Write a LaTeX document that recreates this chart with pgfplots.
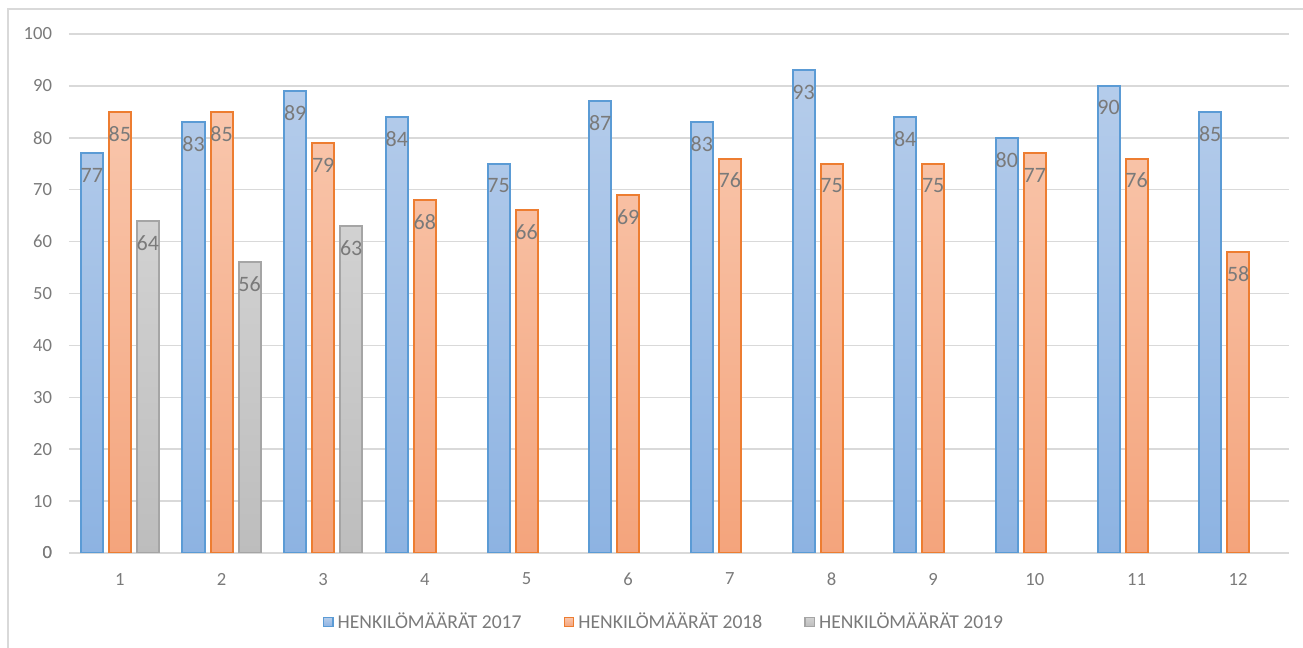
\documentclass[border=0pt]{standalone}
\usepackage{fontspec}
\setmainfont{Carlito}
\usepackage{pgfplots}
\pgfplotsset{compat=1.18}

\definecolor{bluedge}{HTML}{5B9BD5}
\definecolor{bluetop}{HTML}{B6CDEB}
\definecolor{bluebot}{HTML}{8DB3E2}
\definecolor{orgedge}{HTML}{ED7D31}
\definecolor{orgtop}{HTML}{F9C6AC}
\definecolor{orgbot}{HTML}{F4A47C}
\definecolor{gryedge}{HTML}{A5A5A5}
\definecolor{grytop}{HTML}{D2D2D2}
\definecolor{grybot}{HTML}{BDBDBD}
\definecolor{gridc}{HTML}{D9D9D9}
\definecolor{txt}{HTML}{7A7A7A}

\begin{document}
\begin{tikzpicture}
\useasboundingbox (-34.5pt,-47.5pt) rectangle (617pt,276.5pt);
\begin{axis}[
  at={(0,0)}, anchor=south west,
  scale only axis,
  width=610pt, height=259.5pt,
  ybar=3pt,
  bar width=11pt,
  ymin=0, ymax=100,
  xmin=0.5, xmax=12.5,
  xtick={1,...,12},
  ytick={0,10,...,100},
  axis line style={draw=none},
  major tick length=0pt,
  ymajorgrids,
  grid style={draw=gridc, line width=0.75pt},
  extra y ticks={0},
  extra y tick style={grid style={draw=gridc, line width=0.9pt}},
  tick label style={font=\fontsize{9.3}{10}\selectfont, text=txt},
  /pgf/number format/assume math mode=true,
  yticklabel style={xshift=-5pt},
  xticklabel style={yshift=-6.5pt},
  nodes near coords,
  every node near coord/.append style={anchor=center, yshift=-11pt,
    font=\fontsize{11}{12}\selectfont, text=txt},
  legend columns=3,
  legend style={draw=none, fill=none, at={(0.4885,-0.133)}, anchor=center,
    font=\fontsize{9.8}{11}\selectfont, text=txt,
    /tikz/every even column/.append style={column sep=19pt}},
]
\addplot[draw=bluedge, line width=1pt, top color=bluetop, bottom color=bluebot,
  legend image code/.code={\draw[draw=bluedge, line width=0.8pt, top color=bluetop, bottom color=bluebot] (0pt,-2.3pt) rectangle (4.6pt,2.3pt);}]
  coordinates {(1,77) (2,83) (3,89) (4,84) (5,75) (6,87) (7,83) (8,93) (9,84) (10,80) (11,90) (12,85)};
\addplot[draw=orgedge, line width=1pt, top color=orgtop, bottom color=orgbot,
  legend image code/.code={\draw[draw=orgedge, line width=0.8pt, top color=orgtop, bottom color=orgbot] (0pt,-2.3pt) rectangle (4.6pt,2.3pt);}]
  coordinates {(1,85) (2,85) (3,79) (4,68) (5,66) (6,69) (7,76) (8,75) (9,75) (10,77) (11,76) (12,58)};
\addplot[draw=gryedge, line width=1pt, top color=grytop, bottom color=grybot,
  legend image code/.code={\draw[draw=gryedge, line width=0.8pt, top color=grytop, bottom color=grybot] (0pt,-2.3pt) rectangle (4.6pt,2.3pt);}]
  coordinates {(1,64) (2,56) (3,63)};
\legend{HENKILÖMÄÄRÄT 2017, HENKILÖMÄÄRÄT 2018, HENKILÖMÄÄRÄT 2019}
\end{axis}
\draw[gridc, line width=1pt] (-30.5pt,-47.5pt) -- (-30.5pt,272pt) -- (617pt,272pt);
\end{tikzpicture}
\end{document}
